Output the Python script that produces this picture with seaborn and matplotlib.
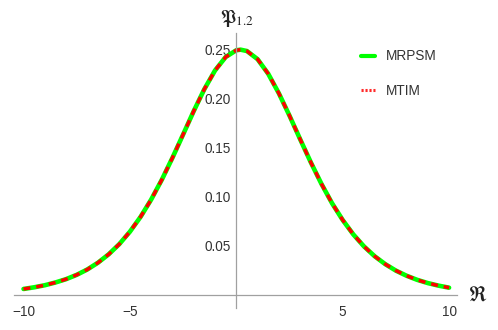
import matplotlib
matplotlib.use("Agg")
import matplotlib.pyplot as plt
from matplotlib.lines import Line2D
import pandas as pd
import seaborn as sns

# values
r_vals = [-10, -9.5, -9, -8.5, -8, -7.5, -7, -6.5, -6, -5.5, -5, -4.5, -4, -3.5, -3,
          -2.5, -2, -1.5, -1, -0.5, 0, 0.2, 0.5, 1, 1.5, 2, 2.5, 3, 3.5, 4, 4.5,
          5, 5.5, 6, 6.5, 7, 7.5, 8, 8.5, 9, 9.5, 10]
mrpsm_vals = [0.0060, 0.0077, 0.0098, 0.0126, 0.0160, 0.0204, 0.0259, 0.0328, 0.0413,
              0.0517, 0.0644, 0.0795, 0.0972, 0.1174, 0.1398, 0.1635, 0.1874, 0.2098,
              0.2288, 0.2425, 0.2494, 0.2500, 0.2486, 0.2403, 0.2254, 0.2055, 0.1827,
              0.1587, 0.1352, 0.1132, 0.0934, 0.0763, 0.0616, 0.0494, 0.0394, 0.0313,
              0.0247, 0.0195, 0.0153, 0.0120, 0.0094, 0.0073]
# both methods coincide on the picture
mtim_vals = list(mrpsm_vals)

x_major = [-10, -5, 5, 10]
x_minor = [v for v in range(-10, 11) if v % 5 != 0]
y_major = [0.05, 0.10, 0.15, 0.20, 0.25]
y_minor = [i / 100 for i in range(1, 27) if i % 5 != 0]

df = pd.DataFrame({"r": r_vals, "MRPSM": mrpsm_vals, "MTIM": mtim_vals})

sns.set_style("white")
plt.rcParams["font.family"] = ["Liberation Sans", "DejaVu Sans"]
plt.rcParams["mathtext.fontset"] = "stix"

fig = plt.figure(figsize=(4.98, 3.3), dpi=100)
ax = fig.add_axes([0.028, 0.067, 0.89, 0.833])

sns.lineplot(data=df, x="r", y="MRPSM", color="#00ff00", lw=3.3, sort=False, ax=ax)
sns.lineplot(data=df, x="r", y="MTIM", color="#ff0000", lw=2.5, sort=False,
             linestyle=(0, (2.0, 1.7)), ax=ax)

ax.set_xlim(-10.45, 10.38)
ax.set_ylim(-0.0133, 0.267)
ax.set_xlabel("")
ax.set_ylabel("")

# Mathematica-like axes through the origin
axis_col = "#a0a0a0"
for s in ["top", "right"]:
    ax.spines[s].set_visible(False)
ax.spines["left"].set_position(("data", 0))
ax.spines["bottom"].set_position(("data", 0))
for s in ["left", "bottom"]:
    ax.spines[s].set_color(axis_col)
    ax.spines[s].set_linewidth(0.9)

ax.set_xticks(x_major)
ax.set_xticklabels([str(v).replace("-", "\u2212") for v in x_major])
ax.set_xticks(x_minor, minor=True)
ax.set_yticks(y_major)
ax.set_yticklabels([f"{v:.2f}" for v in y_major])
ax.set_yticks(y_minor, minor=True)

ax.tick_params(which="both", direction="in", color=axis_col, width=0.8,
               labelsize=9.8, labelcolor="#333333")
ax.tick_params(which="major", length=4)
ax.tick_params(which="minor", length=2.2)
ax.tick_params(axis="x", pad=7)
ax.tick_params(axis="y", pad=4)

ax.text(0.05, 1.015, r"$\mathfrak{P}_{1.2}$", transform=ax.get_xaxis_transform(),
        ha="center", va="bottom", fontsize=13.5, color="#222222")
ax.text(1.025, 0, r"$\mathfrak{R}$", transform=ax.get_yaxis_transform(),
        ha="left", va="center", fontsize=15, color="#222222")

handles = [Line2D([], [], color="#00ff00", lw=3),
           Line2D([], [], color="#ff2a2a", lw=2.2, linestyle=(0, (0.7, 0.6)))]
ax.legend(handles, ["MRPSM", "MTIM"], frameon=False, loc="upper left",
          bbox_to_anchor=(0.725, 0.85), bbox_transform=fig.transFigure,
          fontsize=9.8, handlelength=1.05, handletextpad=0.8, labelspacing=1.5,
          borderpad=0, borderaxespad=0, labelcolor="#333333")

fig.savefig("out.png", dpi=100)
